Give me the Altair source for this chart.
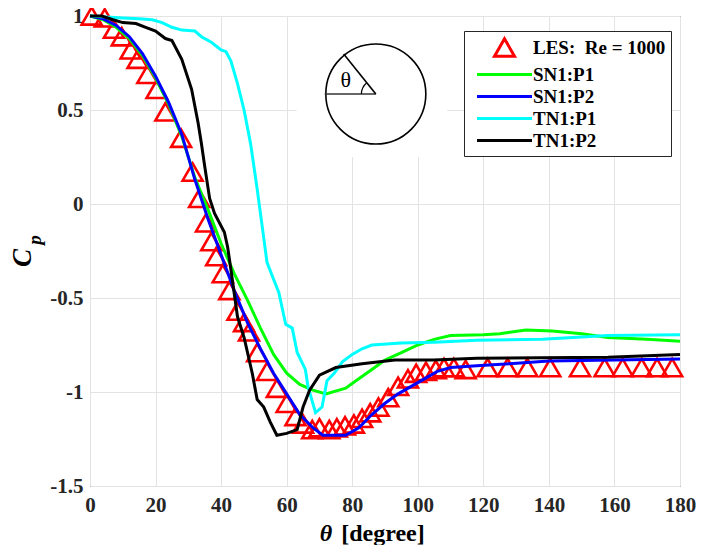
import altair as alt
import pandas as pd

# ---------------- data ----------------
series_names = ["LES:\u00a0 Re = 1000", "SN1:P1", "SN1:P2", "TN1:P1", "TN1:P2"]
series_colors = ["#ff0000", "#00ff00", "#0000ff", "#00ffff", "#000000"]

theta_les = [0.5, 4.5, 7.3, 9.7, 12.4, 14.5, 17.5, 20.3, 23.0, 27.8,
             31.3, 33.3, 35.4, 37.0, 38.5, 40.5, 42.5, 45.0, 47.0, 48.5,
             51.0, 54.0, 57.0, 60.0, 62.7, 65.0, 67.8, 70.0, 73.0, 75.3,
             77.8, 80.5, 83.0, 85.5, 88.0, 91.0, 94.0, 97.0, 99.5, 102.5,
             105.5, 108.0, 111.0, 114.6, 121.3, 127.4, 133.4, 140.4, 149.5, 157.0,
             162.5, 168.3, 173.0, 177.6]
cp_les = [1.0, 0.99, 0.93, 0.89, 0.82, 0.77, 0.69, 0.61, 0.49, 0.35,
          0.17, 0.03, -0.10, -0.20, -0.28, -0.37, -0.46, -0.57, -0.63, -0.68,
          -0.79, -0.89, -0.98, -1.06, -1.13, -1.17, -1.20, -1.19, -1.20, -1.19,
          -1.18, -1.17, -1.14, -1.11, -1.08, -1.03, -0.97, -0.93, -0.90, -0.89,
          -0.88, -0.87, -0.87, -0.88, -0.87, -0.87, -0.87, -0.87, -0.87, -0.87,
          -0.87, -0.87, -0.87, -0.87]

theta_sn1p1 = [0, 4, 8, 12, 16, 20, 24, 28, 32, 36, 40, 44, 48, 52, 56, 60, 64, 68,
               72, 78, 82, 86, 90, 95, 100, 105, 110, 120, 125, 133, 141, 150, 158, 170, 180]
cp_sn1p1 = [1.0, 0.98, 0.94, 0.88, 0.79, 0.67, 0.53, 0.36, 0.14, -0.03, -0.21, -0.37,
            -0.51, -0.66, -0.80, -0.90, -0.96, -0.99, -1.01, -0.98, -0.93, -0.88, -0.83,
            -0.79, -0.75, -0.72, -0.70, -0.695, -0.69, -0.67, -0.675, -0.69, -0.71, -0.72, -0.73]

theta_sn1p2 = [0, 4, 8, 12, 16, 20, 24, 28, 32, 36, 40, 44, 48, 52, 56, 60, 64, 68,
               71, 78, 82, 86, 90, 94, 98, 102, 106, 110, 118, 128, 140, 160, 180]
cp_sn1p2 = [1.0, 0.985, 0.95, 0.89, 0.80, 0.68, 0.54, 0.37, 0.13, -0.08, -0.27, -0.46,
            -0.63, -0.77, -0.90, -1.01, -1.12, -1.19, -1.23, -1.23, -1.19, -1.12, -1.06,
            -1.01, -0.97, -0.93, -0.89, -0.87, -0.86, -0.85, -0.835, -0.83, -0.825]

theta_tn1p1 = [0, 5, 10, 15, 19, 22, 25, 28, 32, 34, 37, 40, 41.5, 43, 45, 47, 49, 51,
               52, 54, 56, 57.6, 59.7, 61.7, 63.2, 65.7, 66.5, 68.8, 70.8, 72.3, 74.5, 77,
               80, 83, 86, 95, 105, 118, 138, 158, 180]
cp_tn1p1 = [1.0, 0.995, 0.99, 0.985, 0.98, 0.965, 0.94, 0.925, 0.92, 0.89, 0.86, 0.82,
            0.81, 0.76, 0.64, 0.50, 0.32, 0.08, -0.05, -0.31, -0.40, -0.47, -0.64, -0.66,
            -0.79, -0.88, -0.97, -1.11, -1.08, -0.94, -0.90, -0.84, -0.80, -0.77, -0.75,
            -0.74, -0.735, -0.725, -0.72, -0.70, -0.695]

theta_tn1p2 = [0, 3.6, 7, 10, 14, 17, 20, 23, 25, 28, 31, 33, 34, 35, 36.5, 38, 41, 42,
               43, 45, 47, 49.5, 51, 53, 55, 57, 60, 63.2, 65, 67, 70, 75, 83, 93, 105,
               118, 158, 180]
cp_tn1p2 = [1.0, 1.0, 0.98, 0.965, 0.96, 0.94, 0.92, 0.88, 0.87, 0.77, 0.61, 0.43, 0.32,
            0.20, 0.03, -0.05, -0.15, -0.23, -0.35, -0.60, -0.71, -0.90, -1.04, -1.08,
            -1.16, -1.23, -1.22, -1.20, -1.08, -0.99, -0.91, -0.87, -0.85, -0.83, -0.83,
            -0.82, -0.815, -0.80]

x_ticks = [0, 20, 40, 60, 80, 100, 120, 140, 160, 180]
y_ticks = [-1.5, -1.0, -0.5, 0.0, 0.5, 1.0]

# ---------------- tables ----------------
les_df = pd.DataFrame({"series": series_names[0], "theta": theta_les, "cp": cp_les})

line_rows = []
for name, th, cp in [(series_names[1], theta_sn1p1, cp_sn1p1),
                     (series_names[2], theta_sn1p2, cp_sn1p2),
                     (series_names[3], theta_tn1p1, cp_tn1p1),
                     (series_names[4], theta_tn1p2, cp_tn1p2)]:
    for i, (a, b) in enumerate(zip(th, cp)):
        line_rows.append({"series": name, "theta": a, "cp": b, "idx": i})
lines_df = pd.DataFrame(line_rows)

# inset sketch (circle with angle) placed in data coordinates
inset = {"cx": 87.2, "cy": 0.585, "left": 71.6, "rx": 77.4, "ry": 0.798,
         "box_x": 63.0, "box_x2": 109.0, "box_y": 0.995, "box_y2": 0.25,
         "lab_x": 78.0, "lab_y": 0.66}
inset_df = pd.DataFrame([inset])

xs = alt.Scale(domain=[0, 180], nice=False, zero=False)
ys = alt.Scale(domain=[-1.5, 1.0], nice=False, zero=False)

FONT = "Liberation Serif"

x_axis = alt.Axis(values=x_ticks, title=None, labelFont=FONT, labelFontWeight="bold",
                  labelFontSize=21, labelColor="#262626", labelPadding=8, tickSize=0,
                  domain=False, grid=True, gridColor="#e3e3e3", labelFlush=False,
                  labelOverlap=False)
y_axis = alt.Axis(values=y_ticks, title=None, labelFont=FONT, labelFontWeight="bold",
                  labelFontSize=21, labelColor="#262626", labelPadding=7, tickSize=0,
                  domain=False, grid=True, gridColor="#e3e3e3", labelFlush=False,
                  labelOverlap=False, labelExpr="'' + datum.value")

leg = alt.Legend(title=None, orient="none", legendX=374, legendY=15)

# legend line sample: a long horizontal stroke drawn as a custom symbol path
LINE_SYMBOL = "M-2.75,0L2.75,0"
color_scale = alt.Scale(domain=series_names, range=series_colors)
shape_scale = alt.Scale(domain=series_names,
                        range=["triangle-up", LINE_SYMBOL, LINE_SYMBOL, LINE_SYMBOL, LINE_SYMBOL])

base_x = alt.X("theta:Q", scale=xs, axis=x_axis)
base_y = alt.Y("cp:Q", scale=ys, axis=y_axis)

# white box behind the inset sketch
box = alt.Chart(inset_df).mark_rect(color="white").encode(
    x=alt.X("box_x:Q", scale=xs, axis=x_axis), x2="box_x2:Q",
    y=alt.Y("box_y:Q", scale=ys, axis=y_axis), y2="box_y2:Q")

points = alt.Chart(les_df).mark_point(filled=False, strokeWidth=2.6, opacity=1,
                                      size=400).encode(
    x=base_x, y=base_y,
    color=alt.Color("series:N", scale=color_scale, legend=leg),
    shape=alt.Shape("series:N", scale=shape_scale, legend=leg),
)

lines = alt.Chart(lines_df).mark_line(strokeWidth=3).encode(
    x=base_x, y=base_y,
    color=alt.Color("series:N", scale=color_scale, legend=None),
    order="idx:Q",
)

circle = alt.Chart(inset_df).mark_point(shape="circle", size=10000, filled=False,
                                         color="black", strokeWidth=1.6, opacity=1).encode(
    x=alt.X("cx:Q", scale=xs), y=alt.Y("cy:Q", scale=ys))
hline = alt.Chart(inset_df).mark_rule(color="#333333", strokeWidth=1.6).encode(
    x=alt.X("left:Q", scale=xs), x2="cx:Q", y=alt.Y("cy:Q", scale=ys))
rline = alt.Chart(inset_df).mark_rule(color="black", strokeWidth=1.6).encode(
    x=alt.X("cx:Q", scale=xs), x2="rx:Q", y=alt.Y("cy:Q", scale=ys), y2="ry:Q")
arc = alt.Chart(inset_df).mark_arc(radius=15, radius2=13.8, theta=4.712, theta2=5.61,
                                    color="black").encode(
    x=alt.X("cx:Q", scale=xs), y=alt.Y("cy:Q", scale=ys))
theta_lab = alt.Chart(inset_df).mark_text(text="θ", font=FONT, fontSize=22,
                                           color="black").encode(
    x=alt.X("lab_x:Q", scale=xs), y=alt.Y("lab_y:Q", scale=ys))

# axis titles (C_p with subscript, italic theta)
title_c = alt.Chart(inset_df).mark_text(text="C", font=FONT, fontSize=27, fontStyle="italic",
                                         fontWeight="bold", angle=270, color="black").encode(
    x=alt.value(-67), y=alt.value(242))
title_p = alt.Chart(inset_df).mark_text(text="p", font=FONT, fontSize=19, fontStyle="italic",
                                         fontWeight="bold", angle=270, color="black").encode(
    x=alt.value(-55), y=alt.value(224))
title_th = alt.Chart(inset_df).mark_text(text="θ", font=FONT, fontSize=24, fontStyle="italic",
                                          fontWeight="bold", color="black").encode(
    x=alt.value(236), y=alt.value(518))
title_deg = alt.Chart(inset_df).mark_text(text="[degree]", font=FONT, fontSize=24,
                                           fontWeight="bold", color="black").encode(
    x=alt.value(293), y=alt.value(518))

chart = alt.layer(box, points, lines, circle, hline, rline, arc, theta_lab,
                  title_c, title_p, title_th, title_deg).properties(
    width=590, height=470,
    autosize=alt.AutoSizeParams(type="none"),
    padding={"left": 82, "top": 8, "right": 16, "bottom": 59},
).configure_view(stroke="#262626", strokeWidth=1).configure_legend(
    fillColor="white", strokeColor="#262626", padding=5, rowPadding=0,
    labelFont=FONT, labelFontWeight="bold", labelFontSize=19, labelColor="black",
    symbolStrokeWidth=3, symbolSize=400, symbolOffset=24, labelOffset=17, labelLimit=300,
).configure_axis(labelFont=FONT)

chart.save("out.html", embed_options={"renderer": "svg", "actions": False})
